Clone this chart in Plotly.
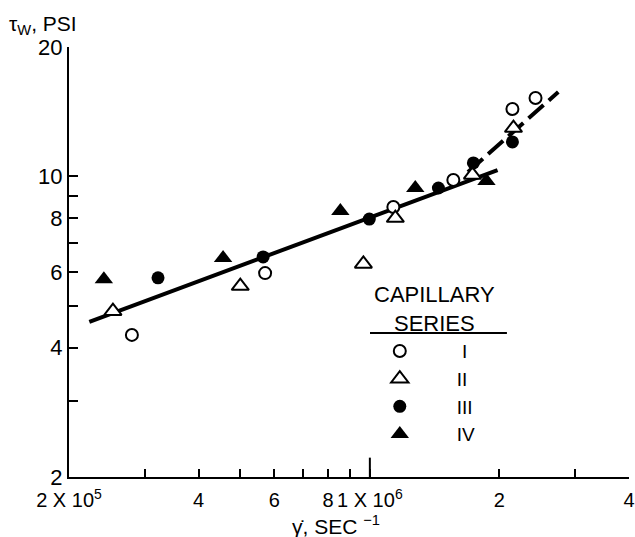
import plotly.graph_objects as go

# ---- data ----
series_names = ["I", "II", "III", "IV"]

x_I = [2.80e5, 5.71e5, 1.134e6, 1.563e6, 2.144e6, 2.426e6]
y_I = [4.28, 5.96, 8.49, 9.81, 14.35, 15.22]

x_II = [2.53e5, 5.00e5, 9.66e5, 1.146e6, 1.731e6, 2.156e6]
y_II = [4.86, 5.56, 6.26, 8.00, 10.08, 12.96]

x_III = [3.22e5, 5.65e5, 9.97e5, 1.443e6, 1.740e6, 2.144e6]
y_III = [5.81, 6.50, 7.96, 9.40, 10.75, 12.03]

x_IV = [2.41e5, 4.56e5, 8.54e5, 1.275e6, 1.866e6]
y_IV = [5.77, 6.46, 8.31, 9.40, 9.76]

fit_solid_x = [2.23e5, 1.98e6]
fit_solid_y = [4.59, 10.35]
fit_dash_x = [1.69e6, 2.74e6]
fit_dash_y = [10.24, 15.72]

NB = "\u00a0"
x_tickvals = [2e5, 4e5, 6e5, 8e5, 1e6, 2e6, 4e6]
x_ticktext = ["2 X 10<sup>5</sup>", "4", "6", "8", "1 X 10<sup>6</sup>", "2", "4"]
x_minor = [3e5, 5e5, 7e5, 9e5, 3e6]
y_tickvals = [2, 4, 6, 8, 10, 20]
y_ticktext = ["2", "4", "6", "8", "10", "20"]
y_minor = [3, 5, 7, 9]

FONT = "Liberation Sans, Arial, sans-serif"

fig = go.Figure()

# fitted lines
fig.add_trace(go.Scatter(x=fit_solid_x, y=fit_solid_y, mode="lines",
                         line=dict(color="black", width=4), showlegend=False,
                         hoverinfo="skip"))
fig.add_trace(go.Scatter(x=fit_dash_x, y=fit_dash_y, mode="lines",
                         line=dict(color="black", width=4, dash="20px,7px"),
                         showlegend=False, hoverinfo="skip"))

pads = [NB * 8, NB * 7, NB * 7, NB * 7]
styles = [
    (x_I, y_I, dict(symbol="circle", size=12, color="white", line=dict(color="black", width=2))),
    (x_II, y_II, dict(symbol="triangle-up", size=15, color="white", line=dict(color="black", width=2))),
    (x_III, y_III, dict(symbol="circle", size=13, color="black", line=dict(color="black", width=0))),
    (x_IV, y_IV, dict(symbol="triangle-up", size=16, color="black", line=dict(color="black", width=0))),
]
for name, pad, (xs, ys, mk) in zip(series_names, pads, styles):
    fig.add_trace(go.Scatter(x=xs, y=ys, mode="markers", marker=mk,
                             name=pad + name, legendgroup=name))

fig.update_layout(
    width=635, height=537,
    margin=dict(l=69, r=6, t=47, b=60, autoexpand=False),
    paper_bgcolor="white", plot_bgcolor="white",
    font=dict(family=FONT, size=20, color="black"),
    showlegend=True,
    legend=dict(
        x=0.555, y=0.337, xanchor="left", yanchor="top",
        bgcolor="rgba(0,0,0,0)",
        font=dict(family=FONT, size=19, color="black"),
        traceorder="grouped", tracegroupgap=0,
        itemsizing="trace",
    ),
    xaxis=dict(
        type="log", range=[5.30103, 6.60206],
        showgrid=False, zeroline=False, automargin=False,
        showline=True, linecolor="black", linewidth=2,
        ticks="inside", ticklen=8, tickwidth=2, tickcolor="black",
        tickmode="array", tickvals=x_tickvals, ticktext=x_ticktext,
        tickangle=0,
        tickfont=dict(family=FONT, size=20, color="black"),
        ticklabelstandoff=4,
        minor=dict(tickmode="array", tickvals=x_minor, ticks="inside",
                   ticklen=8, tickwidth=2, tickcolor="black", showgrid=False),
    ),
    yaxis=dict(
        type="log", range=[0.30103, 1.30103],
        showgrid=False, zeroline=False, automargin=False,
        showline=True, linecolor="black", linewidth=2,
        ticks="inside", ticklen=9, tickwidth=2, tickcolor="black",
        tickmode="array", tickvals=y_tickvals, ticktext=y_ticktext,
        tickangle=0,
        tickfont=dict(family=FONT, size=22, color="black"),
        minor=dict(tickmode="array", tickvals=y_minor, ticks="inside",
                   ticklen=9, tickwidth=2, tickcolor="black", showgrid=False),
    ),
    shapes=[
        # legend heading underline
        dict(type="line", xref="paper", yref="paper",
             x0=0.5375, x1=0.782, y0=0.335, y1=0.335,
             line=dict(color="black", width=2)),
        # longer tick mark at 1 X 10^6
        dict(type="line", xref="x", yref="y domain",
             x0=1e6, x1=1e6, y0=0, y1=0.045,
             line=dict(color="black", width=2)),
    ],
    annotations=[
        dict(text="CAPILLARY<br>SERIES", xref="paper", yref="paper",
             x=0.652, y=0.391, xanchor="center", yanchor="middle", align="center",
             showarrow=False, font=dict(family=FONT, size=22, color="black")),
        dict(text="τ<sub>W</sub>, PSI", xref="paper", yref="paper",
             x=-0.11, y=1.052, xanchor="left", yanchor="middle",
             showarrow=False, font=dict(family=FONT, size=21, color="black")),
        dict(text="γ̇, SEC <sup>−1</sup>", xref="paper", yref="paper",
             x=0.477, y=-0.111, xanchor="center", yanchor="middle",
             showarrow=False, font=dict(family=FONT, size=21, color="black")),
    ],
)

fig.write_html("out.html", post_script="document.body.style.margin='0';",
               config={"displayModeBar": False})
